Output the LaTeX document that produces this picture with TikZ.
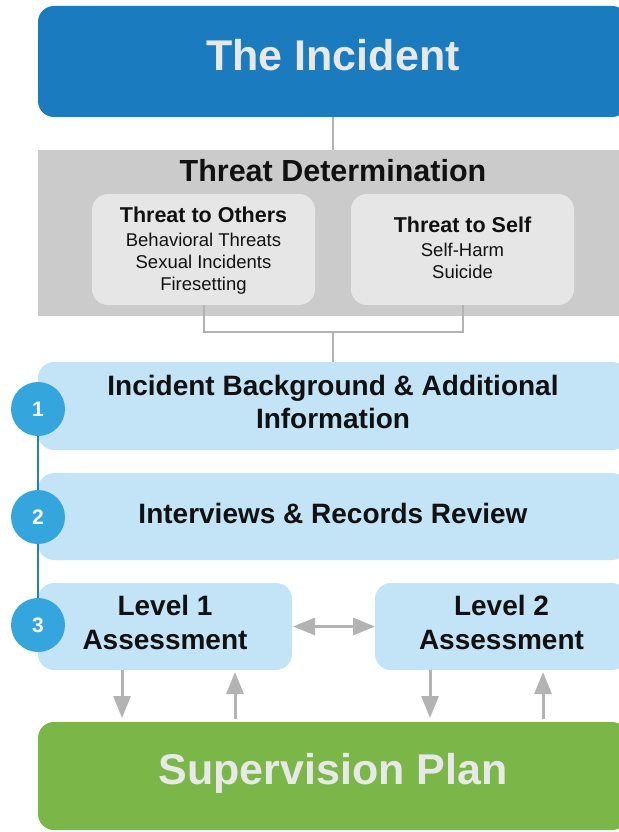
\documentclass[tikz,border=0pt]{standalone}
\usepackage{fontspec}
\setmainfont{Liberation Sans}
\usetikzlibrary{arrows.meta}
\definecolor{incblue}{HTML}{1A7CBE}
\definecolor{bandgray}{HTML}{CBCBCB}
\definecolor{innergray}{HTML}{E6E6E6}
\definecolor{lightblue}{HTML}{C2E4F6}
\definecolor{circblue}{HTML}{35A5DD}
\definecolor{lineblue}{HTML}{1E7FC2}
\definecolor{plangreen}{HTML}{7AB648}
\definecolor{connGray}{HTML}{B3B3B3}
\definecolor{paleText}{HTML}{E8E8E8}
\definecolor{darkText}{HTML}{111111}
\begin{document}
\begin{tikzpicture}[x=1pt,y=-1pt,
  boxbase/.style={draw=none, inner sep=0pt, outer sep=0pt, rectangle, anchor=north west},
  roundbox/.style={boxbase, rounded corners=16pt},
  conn/.style={draw=connGray, line width=2pt},
  garrow/.style={draw=connGray, line width=3pt, -{Triangle[length=22pt,width=17pt]}},
  gdarrow/.style={draw=connGray, line width=3pt, {Triangle[length=22pt,width=17pt]}-{Triangle[length=22pt,width=17pt]}},
  numcirc/.style={circle, fill=circblue, minimum size=54pt, inner sep=0pt, text=white, font=\fontsize{21}{24}\selectfont\bfseries},
  stepline/.style={draw=lineblue, line width=2.5pt},
  bigtext/.style={anchor=base, text=paleText, font=\fontsize{43}{48}\selectfont\bfseries},
  midtext/.style={anchor=base, text=darkText, font=\fontsize{28}{32}\selectfont\bfseries},
  subhead/.style={anchor=base, text=darkText, font=\fontsize{21.5}{24}\selectfont\bfseries},
  itemtext/.style={anchor=base, text=darkText, font=\fontsize{18.5}{22}\selectfont}
]
\useasboundingbox (0,0) rectangle (618,832);

% The Incident
\node[roundbox, fill=incblue, minimum width=590pt, minimum height=111pt] (incident) at (38,6) {};
\node[bigtext] (tincident) at (333,71) {The Incident};

% Threat determination band
\node[boxbase, fill=bandgray, minimum width=590pt, minimum height=166pt] (band) at (38,150) {};
\node[anchor=base, text=darkText, font=\fontsize{30.5}{34}\selectfont\bfseries] (tband) at (333,181) {Threat Determination};

\node[roundbox, fill=innergray, minimum width=223pt, minimum height=111pt] (others) at (92,194) {};
\node[subhead] (tothers) at (203.5,222) {Threat to Others};
\node[itemtext] (o1) at (203.5,246) {Behavioral Threats};
\node[itemtext] (o2) at (203.5,268) {Sexual Incidents};
\node[itemtext] (o3) at (203.5,290) {Firesetting};

\node[roundbox, fill=innergray, minimum width=223pt, minimum height=111pt] (self) at (351,194) {};
\node[subhead] (tself) at (462.5,232) {Threat to Self};
\node[itemtext] (s1) at (462.5,256) {Self-Harm};
\node[itemtext] (s2) at (462.5,278) {Suicide};

\draw[conn] (incident.south) -- (band.north);
\coordinate (join) at (333,332);

% Step boxes
\node[roundbox, fill=lightblue, minimum width=590pt, minimum height=88pt] (bg) at (38,362) {};
\node[midtext] (tbg1) at (333,395) {Incident Background \& Additional};
\node[midtext] (tbg2) at (333,428) {Information};

\node[roundbox, fill=lightblue, minimum width=590pt, minimum height=87pt] (iv) at (38,473) {};
\node[midtext] (tiv) at (333,523) {Interviews \& Records Review};

\node[roundbox, fill=lightblue, minimum width=254pt, minimum height=87pt] (lone) at (38,583) {};
\node[midtext] (tl1a) at (165,615) {Level 1};
\node[midtext] (tl1b) at (165,649) {Assessment};

\node[roundbox, fill=lightblue, minimum width=253pt, minimum height=87pt] (ltwo) at (375,583) {};
\node[midtext] (tl2a) at (501.5,615) {Level 2};
\node[midtext] (tl2b) at (501.5,649) {Assessment};

% Supervision plan
\node[roundbox, fill=plangreen, minimum width=590pt, minimum height=108pt] (sup) at (38,722) {};
\node[bigtext] (tsup) at (333,784) {Supervision Plan};

% connectors from threat boxes
\draw[conn] (others.south) |- (join);
\draw[conn] (self.south) |- (join);
\draw[conn] (join) -- (bg.north);

% arrows
\draw[gdarrow, shorten <=1pt] (lone.east) -- (ltwo.east -| ltwo.west);
\draw[garrow, shorten >=4pt] ([xshift=-43pt]lone.south) -- ([xshift=-43pt]lone.south |- sup.north);
\draw[garrow, shorten <=3pt, shorten >=2pt] ([xshift=70pt]lone.south |- sup.north) -- ([xshift=70pt]lone.south);
\draw[garrow, shorten >=4pt] ([xshift=-71.5pt]ltwo.south) -- ([xshift=-71.5pt]ltwo.south |- sup.north);
\draw[garrow, shorten <=3pt, shorten >=2pt] ([xshift=41.5pt]ltwo.south |- sup.north) -- ([xshift=41.5pt]ltwo.south);

% step numbers
\coordinate (p1) at (38,409);
\coordinate (p2) at (38,517);
\coordinate (p3) at (38,625);
\draw[stepline] (p1) -- (p3);
\node[numcirc] (c1) at (p1) {1};
\node[numcirc] (c2) at (p2) {2};
\node[numcirc] (c3) at (p3) {3};
\end{tikzpicture}
\end{document}
